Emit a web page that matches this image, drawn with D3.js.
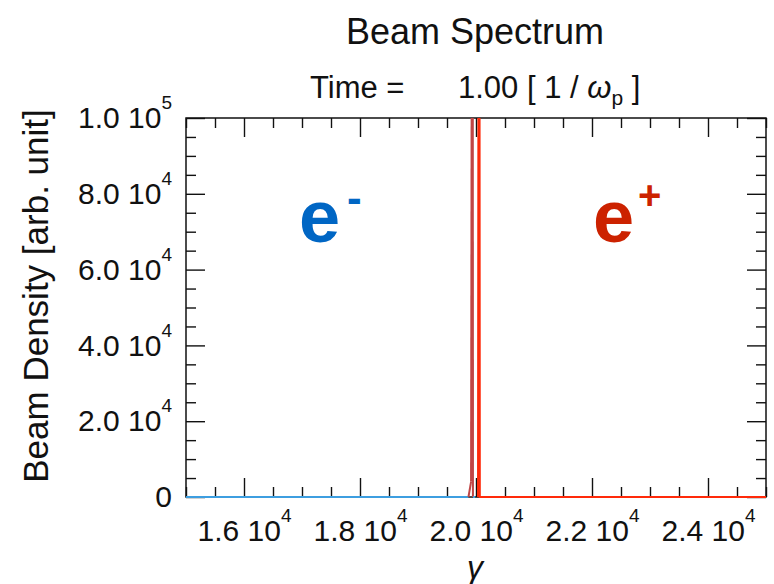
<!DOCTYPE html>
<html>
<head>
<meta charset="utf-8">
<script src="https://cdn.jsdelivr.net/npm/d3@7"></script>
<style>
  body { margin: 0; background: #fff; }
  svg text { font-family: "Liberation Sans", Arial, Helvetica, sans-serif; }
</style>
</head>
<body>
<svg id="chart" width="774" height="584"></svg>
<script>
// axis ranges and ticks
var xDomain = [15000, 25000];
var yDomain = [0, 100000];
var xMajor = [16000, 18000, 20000, 22000, 24000];
var yMajor = [0, 20000, 40000, 60000, 80000, 100000];

// electron beam spectrum (gamma, density) - spike runs off the top
var electronGamma = [15000, 19870, 19915, 19932, 19942, 19948, 19985];
var electronDensity = [0, 0, 4000, 180000, 180000, 0, 0];

// positron beam spectrum
var positronGamma = [20035, 20046, 20058, 20066, 25000];
var positronDensity = [0, 180000, 180000, 0, 0];

var svg = d3.select("#chart");
var m = {l: 186, r: 766, t: 118, b: 497};

var x = d3.scaleLinear().domain(xDomain).range([m.l, m.r]);
var y = d3.scaleLinear().domain(yDomain).range([m.b, m.t]);

var xMinor = d3.range(xDomain[0], xDomain[1] + 1, 500).filter(function(v) { return xMajor.indexOf(v) < 0; });
var yMinor = d3.range(yDomain[0], yDomain[1] + 1, 5000).filter(function(v) { return yMajor.indexOf(v) < 0; });

svg.append("defs").append("clipPath").attr("id", "plot")
  .append("rect").attr("x", m.l).attr("y", m.t).attr("width", m.r - m.l).attr("height", m.b - m.t + 2);

// title
svg.append("text").attr("x", 475).attr("y", 44).attr("text-anchor", "middle")
  .attr("font-size", 36).attr("fill", "#111").text("Beam Spectrum");

svg.append("text").attr("x", 310).attr("y", 98).attr("font-size", 31).attr("fill", "#111").text("Time =");
var tt = svg.append("text").attr("x", 458).attr("y", 98).attr("font-size", 31).attr("fill", "#111");
tt.append("tspan").text("1.00 [ 1 / ");
tt.append("tspan").attr("font-style", "italic").text("\u03c9");
tt.append("tspan").attr("font-size", 21).attr("dy", 7).text("p");
tt.append("tspan").attr("dy", -7).text(" ]");

// axes
function sci(v) {
  if (v === 0) return ["0", null];
  var e = Math.floor(Math.log10(v) + 1e-9);
  return [(v / Math.pow(10, e)).toFixed(1) + " 10", String(e)];
}
function fmtLabels(sel) {
  sel.selectAll(".tick text").each(function(d) {
    var t = d3.select(this).text("");
    var p = sci(d);
    t.append("tspan").text(p[0]);
    if (p[1]) t.append("tspan").attr("font-size", 19).attr("dy", -19).text(p[1]);
  });
}
function styleAxis(g) {
  g.select(".domain").remove();
  g.attr("font-size", 30).attr("font-family", null);
  g.selectAll(".tick line").attr("stroke", "#111").attr("stroke-width", 1.4);
  g.selectAll(".tick text").attr("fill", "#111");
}

var gx = svg.append("g").attr("transform", "translate(0," + m.b + ")")
  .call(d3.axisBottom(x).tickValues(xMajor).tickSize(-19).tickPadding(23));
styleAxis(gx); fmtLabels(gx);
svg.append("g").attr("transform", "translate(0," + m.b + ")")
  .call(d3.axisBottom(x).tickValues(xMinor).tickSize(-10).tickFormat("")).call(styleAxis);
svg.append("g").attr("transform", "translate(0," + m.t + ")")
  .call(d3.axisTop(x).tickValues(xMajor).tickSize(-19).tickFormat("")).call(styleAxis);
svg.append("g").attr("transform", "translate(0," + m.t + ")")
  .call(d3.axisTop(x).tickValues(xMinor).tickSize(-10).tickFormat("")).call(styleAxis);

var gy = svg.append("g").attr("transform", "translate(" + m.l + ",0)")
  .call(d3.axisLeft(y).tickValues(yMajor).tickSize(-19).tickPadding(14));
styleAxis(gy); fmtLabels(gy);
svg.append("g").attr("transform", "translate(" + m.l + ",0)")
  .call(d3.axisLeft(y).tickValues(yMinor).tickSize(-10).tickFormat("")).call(styleAxis);
svg.append("g").attr("transform", "translate(" + m.r + ",0)")
  .call(d3.axisRight(y).tickValues(yMajor).tickSize(-19).tickFormat("")).call(styleAxis);
svg.append("g").attr("transform", "translate(" + m.r + ",0)")
  .call(d3.axisRight(y).tickValues(yMinor).tickSize(-10).tickFormat("")).call(styleAxis);

svg.append("rect").attr("x", m.l).attr("y", m.t).attr("width", m.r - m.l).attr("height", m.b - m.t)
  .attr("fill", "none").attr("stroke", "#111").attr("stroke-width", 1.5);

// lines, drawn over the frame like the original
var line = d3.line().x(function(d) { return x(d[0]); }).y(function(d) { return y(d[1]); });
var lines = svg.append("g").attr("clip-path", "url(#plot)").attr("fill", "none").attr("stroke-width", 2);

var ePts = electronGamma.map(function(g, i) { return [g, electronDensity[i]]; });
for (var i = 0; i < ePts.length - 1; i++) {
  var flat = ePts[i][1] === 0 && ePts[i + 1][1] === 0;
  lines.append("path").attr("d", line([ePts[i], ePts[i + 1]]))
    .attr("stroke", flat ? "#3d9ee0" : "#c04545");
}
var pPts = positronGamma.map(function(g, i) { return [g, positronDensity[i]]; });
lines.append("path").attr("d", line(pPts)).attr("stroke", "#ff2a0a");

// axis titles
svg.append("text").attr("x", 475).attr("y", 578).attr("text-anchor", "middle")
  .attr("font-size", 32).attr("font-style", "italic").attr("fill", "#111").text("\u03b3");
svg.append("text").attr("transform", "translate(48,296) rotate(-90)").attr("text-anchor", "middle")
  .attr("font-size", 35).attr("fill", "#111").text("Beam Density [arb. unit]");

// species labels
var lab = svg.append("g").attr("font-weight", "bold").style("font-family", "'DejaVu Sans', Verdana, sans-serif");
lab.append("text").attr("x", 299).attr("y", 242).attr("font-size", 74).attr("fill", "#0066c4").text("e");
lab.append("text").attr("x", 347).attr("y", 213).attr("font-size", 44).attr("fill", "#0066c4").text("-");
lab.append("text").attr("x", 593).attr("y", 242).attr("font-size", 74).attr("fill", "#cc2200").text("e");
lab.append("text").attr("x", 638).attr("y", 209).attr("font-size", 40).attr("fill", "#cc2200").text("+");
</script>
</body>
</html>
